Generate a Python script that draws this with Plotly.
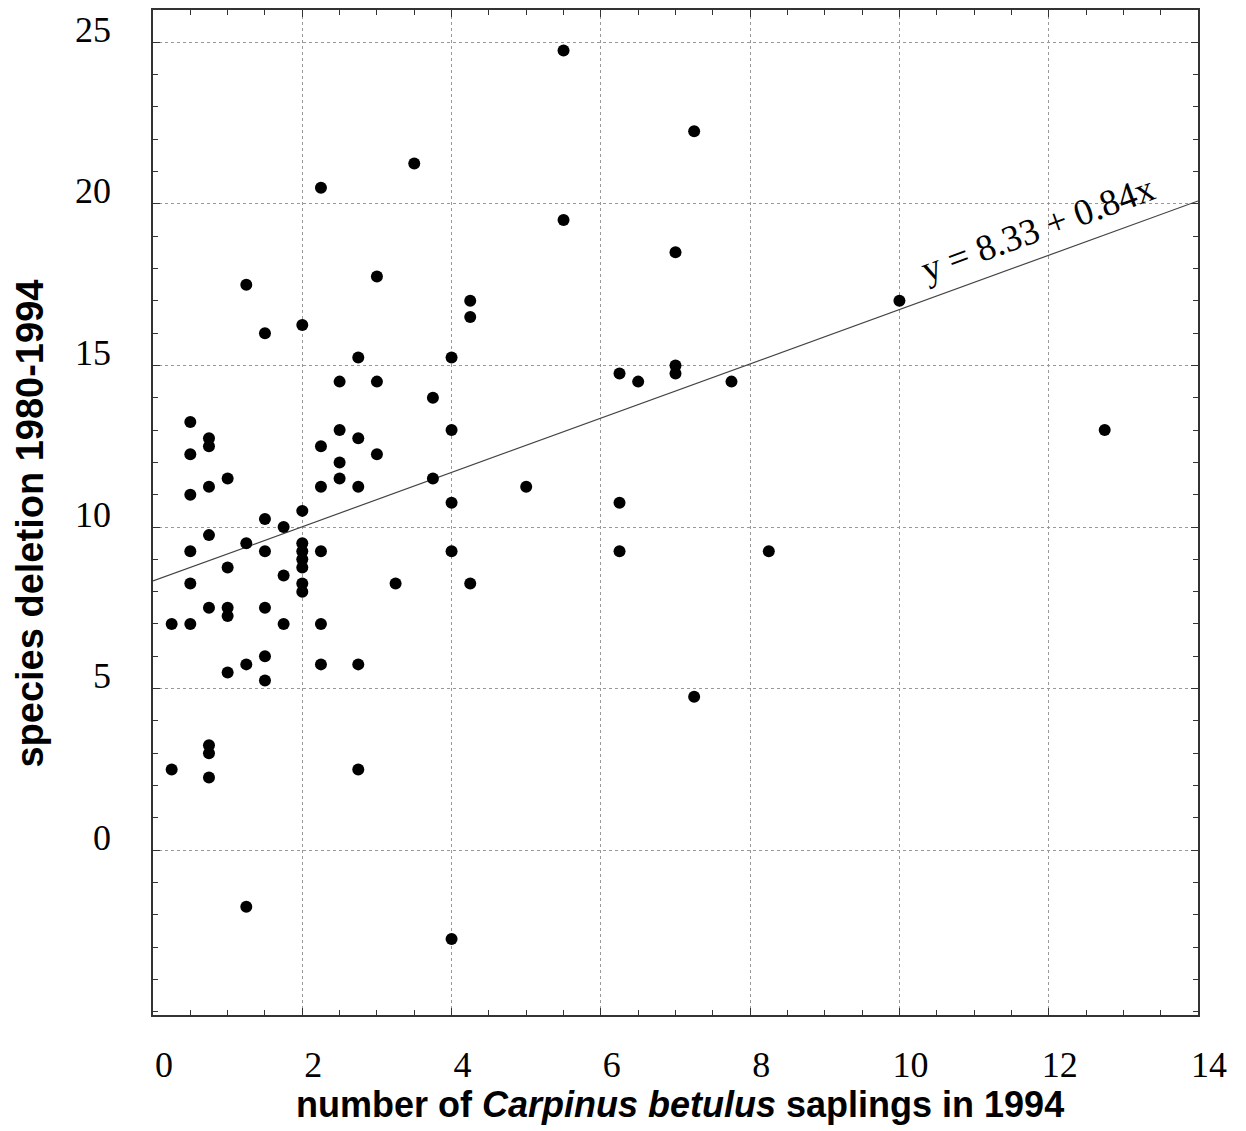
import plotly.graph_objects as go

# ---- data ----
x_vals = [0.25, 0.25,
          0.5, 0.5, 0.5, 0.5, 0.5, 0.5,
          0.75, 0.75, 0.75, 0.75, 0.75, 0.75, 0.75, 0.75,
          1.0, 1.0, 1.0, 1.0, 1.0,
          1.25, 1.25, 1.25, 1.25,
          1.5, 1.5, 1.5, 1.5, 1.5, 1.5,
          1.75, 1.75, 1.75,
          2.0, 2.0, 2.0, 2.0, 2.0, 2.0, 2.0, 2.0,
          2.25, 2.25, 2.25, 2.25, 2.25, 2.25,
          2.5, 2.5, 2.5, 2.5,
          2.75, 2.75, 2.75, 2.75, 2.75,
          3.0, 3.0, 3.0,
          3.25,
          3.5,
          3.75, 3.75,
          4.0, 4.0, 4.0, 4.0, 4.0,
          4.25, 4.25, 4.25,
          5.0,
          5.5, 5.5,
          6.25, 6.25, 6.25,
          6.5,
          7.0, 7.0, 7.0,
          7.25, 7.25,
          7.75,
          8.25,
          10.0,
          12.75]
y_vals = [7.0, 2.5,
          13.25, 12.25, 11.0, 9.25, 8.25, 7.0,
          12.75, 12.5, 11.25, 9.75, 7.5, 3.25, 3.0, 2.25,
          11.5, 8.75, 7.5, 7.25, 5.5,
          17.5, 9.5, 5.75, -1.75,
          16.0, 10.25, 9.25, 7.5, 6.0, 5.25,
          10.0, 8.5, 7.0,
          16.25, 10.5, 9.5, 9.25, 9.0, 8.75, 8.25, 8.0,
          20.5, 12.5, 11.25, 9.25, 7.0, 5.75,
          14.5, 13.0, 12.0, 11.5,
          15.25, 12.75, 11.25, 5.75, 2.5,
          17.75, 14.5, 12.25,
          8.25,
          21.25,
          14.0, 11.5,
          15.25, 13.0, 10.75, 9.25, -2.75,
          17.0, 16.5, 8.25,
          11.25,
          24.75, 19.5,
          14.75, 10.75, 9.25,
          14.5,
          18.5, 15.0, 14.75,
          22.25, 4.75,
          14.5,
          9.25,
          17.0,
          13.0]

intercept = 8.33
slope = 0.84
x_range = [0, 14]
y_range = [-5.1, 26]
x_tick_vals = [0, 2, 4, 6, 8, 10, 12, 14]
y_tick_vals = [0, 5, 10, 15, 20, 25]
equation_label = "y = 8.33 + 0.84x"
x_title = "<b>number of <i>Carpinus betulus</i> saplings in 1994</b>"
y_title = "<b>species deletion 1980-1994</b>"

line_x = [x_range[0], x_range[1]]
line_y = [intercept + slope * v for v in line_x]

fig = go.Figure()
fig.add_trace(go.Scatter(x=line_x, y=line_y, mode="lines",
                         line=dict(color="#444444", width=1.2),
                         hoverinfo="skip", showlegend=False))
fig.add_trace(go.Scatter(x=x_vals, y=y_vals, mode="markers",
                         marker=dict(color="black", size=12),
                         showlegend=False))

serif = "Liberation Serif, Times New Roman, serif"
sans = "Liberation Sans, Arial, sans-serif"

axis_common = dict(
    showline=True, linecolor="#333333", linewidth=1.5, mirror="ticks",
    ticks="inside", ticklen=7, tickcolor="#333333", tickwidth=1,
    showgrid=True, gridcolor="#999999", gridwidth=1, griddash="dot",
    zeroline=False,
    tickfont=dict(family=serif, size=36, color="black"),
)

fig.update_xaxes(range=x_range, tickmode="array", tickvals=x_tick_vals,
                 ticktext=[str(v) for v in x_tick_vals],
                 minor=dict(dtick=0.5, ticks="inside", ticklen=5, tickcolor="#333333", showgrid=False),
                 ticklabelstandoff=17, ticklabelshift=11,
                 **axis_common)
fig.update_yaxes(range=y_range, tickmode="array", tickvals=y_tick_vals,
                 ticktext=[str(v) for v in y_tick_vals],
                 minor=dict(dtick=1, ticks="inside", ticklen=5, tickcolor="#333333", showgrid=False),
                 ticklabelstandoff=33, ticklabelshift=-13,
                 **axis_common)

fig.add_annotation(x=11.85, y=19.25, xref="x", yref="y", text=equation_label,
                   showarrow=False, textangle=-20,
                   font=dict(family=serif, size=37, color="black"))

fig.add_annotation(x=0.504, y=0, xref="paper", yref="paper", text=x_title,
                   showarrow=False, yshift=-89, yanchor="middle", xanchor="center",
                   font=dict(family=sans, size=36, color="black"))
fig.add_annotation(x=0, y=0.489, xref="paper", yref="paper", text=y_title,
                   showarrow=False, xshift=-123, textangle=-90,
                   xanchor="center", yanchor="middle",
                   font=dict(family=sans, size=38, color="black"))

fig.update_layout(width=1236, height=1121,
                  margin=dict(l=145, r=46, t=0, b=114),
                  plot_bgcolor="white", paper_bgcolor="white")

fig.write_html("out.html")
